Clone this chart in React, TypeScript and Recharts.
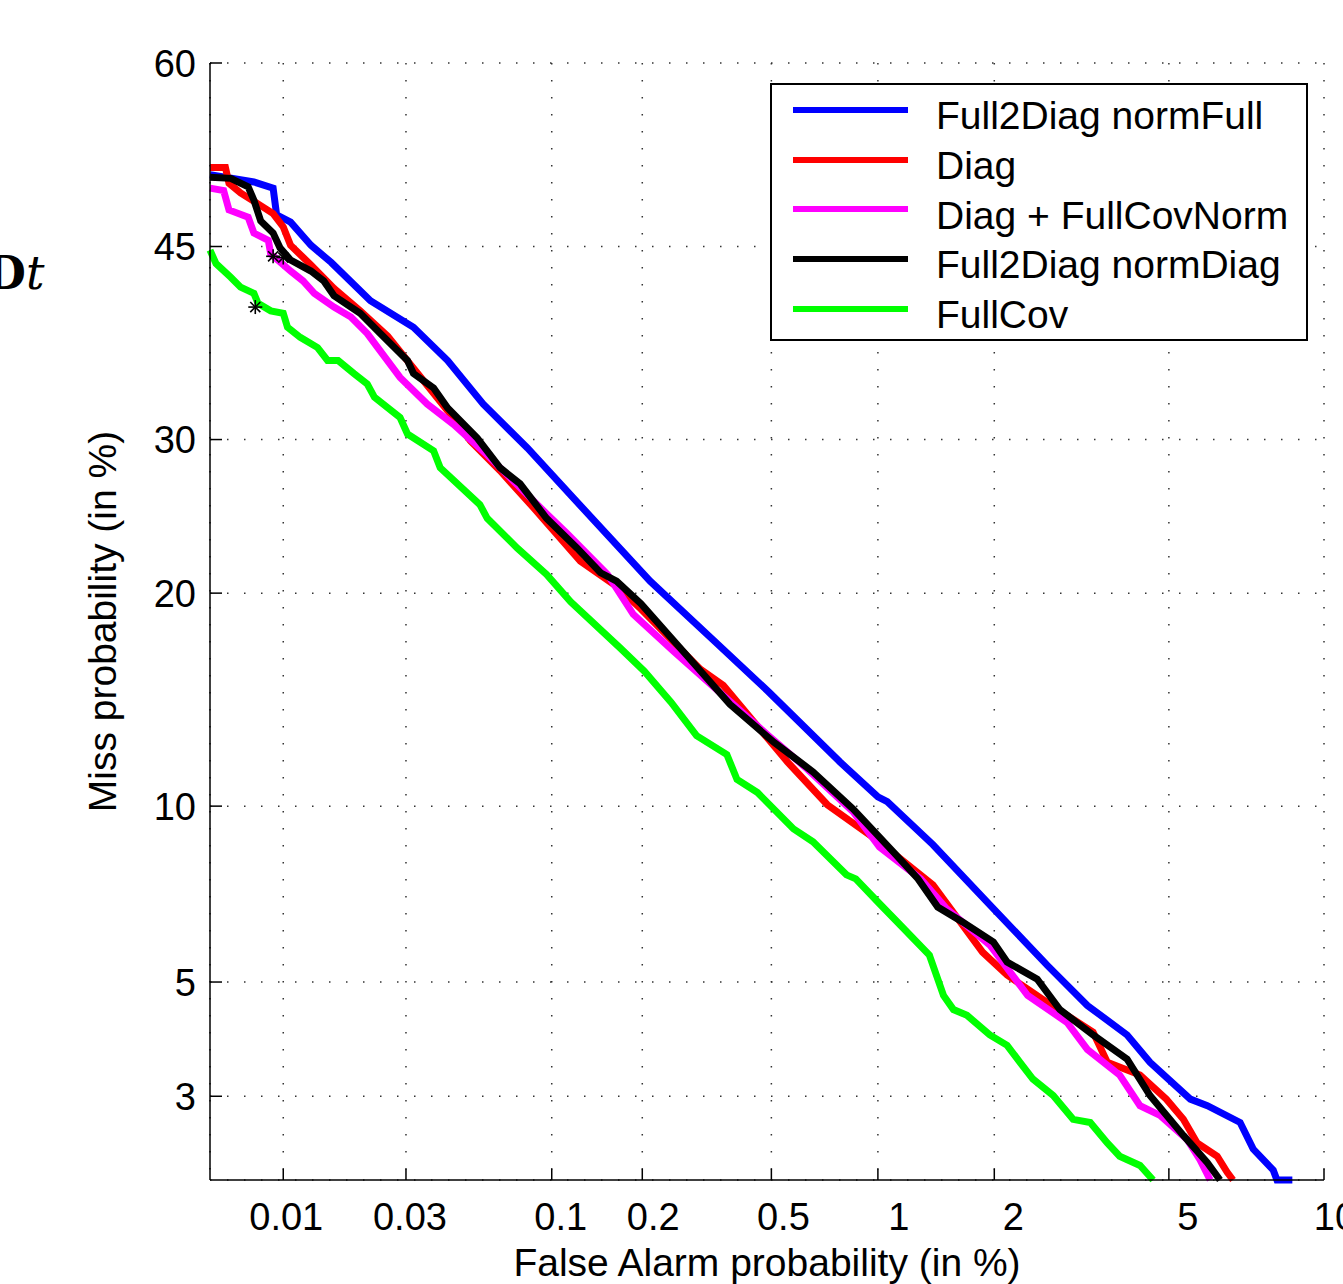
import React from "react";
import { ComposedChart, Line, Scatter, XAxis, YAxis, CartesianGrid, Legend } from "recharts";

// DET curves, values as [false alarm %, miss %]
const FA_TICKS = [0.01, 0.03, 0.1, 0.2, 0.5, 1, 2, 5, 10];
const MISS_TICKS = [3, 5, 10, 20, 30, 45, 60];
const FA_RANGE = [0.005, 10];
const MISS_RANGE = [2, 60];

const full2DiagNormFull = [
  [0.005, 50.9], [0.0076, 50.3], [0.0091, 49.8], [0.0094, 47.6], [0.0107, 47.0], [0.0129, 45.1],
  [0.0155, 43.7], [0.022, 40.6], [0.032, 38.5], [0.0428, 35.9], [0.0575, 32.6], [0.0824, 29.4],
  [0.119, 25.9], [0.212, 20.7], [0.344, 17.2], [0.49, 14.8], [0.786, 11.7], [1.0, 10.34],
  [1.06, 10.16], [1.4, 8.67], [1.95, 6.87], [2.68, 5.37], [3.32, 4.52], [4.07, 3.97],
  [4.56, 3.51], [5.54, 2.96], [6.0, 2.87], [6.97, 2.65], [7.39, 2.33], [8.07, 2.1],
  [8.2, 2.0], [8.76, 2.0],
];

const diag = [
  [0.005, 51.5], [0.0058, 51.5], [0.006, 50.2], [0.0067, 49.4], [0.0079, 48.5], [0.0091, 47.7],
  [0.01, 46.6], [0.0107, 45.1], [0.0129, 43.5], [0.0159, 41.6], [0.0201, 39.8], [0.0256, 37.8],
  [0.032, 35.3], [0.0428, 32.1], [0.0518, 29.9], [0.0661, 27.8], [0.0865, 25.3], [0.125, 21.9],
  [0.165, 20.4], [0.198, 19.1], [0.305, 15.9], [0.359, 15.1], [0.557, 11.7], [0.725, 10.05],
  [1.01, 8.76], [1.4, 7.43], [1.87, 5.67], [2.15, 5.15], [2.68, 4.58], [3.42, 4.02],
  [3.68, 3.51], [4.34, 3.31], [4.94, 2.96], [5.36, 2.69], [5.72, 2.4], [6.28, 2.25],
  [6.57, 2.08], [6.75, 2.0],
];

const diagFullCovNorm = [
  [0.005, 49.8], [0.0057, 49.6], [0.006, 48.0], [0.0072, 47.4], [0.0076, 46.1], [0.0087, 45.5],
  [0.0089, 44.4], [0.0107, 43.0], [0.012, 42.2], [0.0133, 41.2], [0.0159, 40.1], [0.0185, 39.3],
  [0.0214, 38.0], [0.0285, 34.6], [0.036, 32.6], [0.045, 31.1], [0.0595, 28.9], [0.0736, 27.1],
  [0.096, 24.9], [0.113, 23.6], [0.154, 21.1], [0.187, 18.8], [0.252, 16.8], [0.385, 14.2],
  [0.49, 12.8], [0.637, 11.4], [0.855, 9.8], [1.01, 8.6], [1.3, 7.61], [1.52, 6.76],
  [1.95, 5.84], [2.41, 4.72], [2.98, 4.2], [3.32, 3.72], [3.92, 3.31], [4.34, 2.87],
  [4.79, 2.74], [5.46, 2.44], [5.8, 2.21], [6.08, 2.0],
];

const full2DiagNormDiag = [
  [0.005, 50.7], [0.0061, 50.6], [0.0072, 49.9], [0.0076, 48.8], [0.0081, 47.1], [0.0091, 46.1],
  [0.0097, 44.9], [0.0107, 43.9], [0.0129, 43.0], [0.0145, 42.2], [0.0159, 41.0], [0.0201, 39.6],
  [0.024, 38.0], [0.0304, 35.9], [0.032, 34.9], [0.038, 33.8], [0.0428, 32.3], [0.0548, 30.1],
  [0.0661, 28.0], [0.0777, 26.9], [0.096, 24.6], [0.122, 22.7], [0.146, 21.2], [0.165, 20.7],
  [0.198, 19.4], [0.27, 16.8], [0.376, 14.2], [0.51, 12.5], [0.66, 11.3], [0.855, 9.9],
  [1.1, 8.44], [1.28, 7.61], [1.44, 6.81], [1.67, 6.41], [1.99, 5.91], [2.15, 5.44],
  [2.54, 5.06], [2.87, 4.44], [3.42, 3.97], [4.07, 3.56], [4.56, 3.01], [5.36, 2.49],
  [6.0, 2.18], [6.36, 2.0],
];

const fullCov = [
  [0.005, 44.7], [0.0053, 43.6], [0.0061, 42.5], [0.0067, 41.7], [0.0076, 41.2], [0.0079, 40.4],
  [0.0089, 39.8], [0.01, 39.6], [0.0104, 38.5], [0.0117, 37.7], [0.0137, 36.9], [0.015, 35.9],
  [0.0165, 35.9], [0.019, 34.9], [0.0214, 34.1], [0.0228, 33.1], [0.0285, 31.6], [0.0304, 30.4],
  [0.038, 29.2], [0.0402, 28.0], [0.056, 25.5], [0.0595, 24.6], [0.076, 22.7], [0.096, 21.1],
  [0.116, 19.5], [0.169, 17.0], [0.203, 15.8], [0.247, 14.3], [0.297, 12.8], [0.368, 12.0],
  [0.395, 11.0], [0.455, 10.5], [0.58, 9.2], [0.66, 8.77], [0.82, 7.73], [0.87, 7.61],
  [1.0, 6.95], [1.15, 6.33], [1.37, 5.6], [1.49, 4.72], [1.58, 4.44], [1.71, 4.33],
  [1.95, 3.97], [2.15, 3.79], [2.31, 3.51], [2.48, 3.25], [2.77, 3.01], [3.08, 2.69],
  [3.37, 2.65], [3.68, 2.4], [3.92, 2.25], [4.34, 2.15], [4.63, 2.0],
];

// min-cost operating points drawn as "*"
const minCostPoints = [[0.0091, 44.2], [0.01, 44.1], [0.0077, 40.1]];

const SERIES = [
  { name: "Full2Diag normFull", data: full2DiagNormFull, color: "#0000ff" },
  { name: "Diag", data: diag, color: "#ff0000" },
  { name: "Diag + FullCovNorm", data: diagFullCovNorm, color: "#ff00ff" },
  { name: "Full2Diag normDiag", data: full2DiagNormDiag, color: "#000000" },
  { name: "FullCov", data: fullCov, color: "#00ff00" },
];

const FONT = "'Liberation Sans', Arial, Helvetica, sans-serif";
// tick labels sit a bit right of their ticks in the original
const FA_LABEL_SHIFT = [3, 4, 9, 11, 12, 21, 19, 19, 11];

// inverse normal CDF (Acklam)
function probit(p: number): number {
  const a = [-39.69683028665376, 220.9460984245205, -275.9285104469687, 138.357751867269, -30.66479806614716, 2.506628277459239];
  const b = [-54.47609879822406, 161.5858368580409, -155.6989798598866, 66.80131188771972, -13.28068155288572];
  const c = [-0.007784894002430293, -0.3223964580411365, -2.400758277161838, -2.549732539343734, 4.374664141464968, 2.938163982698783];
  const d = [0.007784695709041462, 0.3224671290700398, 2.445134137142996, 3.754408661907416];
  const lo = 0.02425;
  if (p < lo) {
    const q = Math.sqrt(-2 * Math.log(p));
    return (((((c[0] * q + c[1]) * q + c[2]) * q + c[3]) * q + c[4]) * q + c[5]) / ((((d[0] * q + d[1]) * q + d[2]) * q + d[3]) * q + 1);
  }
  if (p <= 1 - lo) {
    const q = p - 0.5;
    const r = q * q;
    return ((((((a[0] * r + a[1]) * r + a[2]) * r + a[3]) * r + a[4]) * r + a[5]) * q) / (((((b[0] * r + b[1]) * r + b[2]) * r + b[3]) * r + b[4]) * r + 1);
  }
  const q = Math.sqrt(-2 * Math.log(1 - p));
  return -(((((c[0] * q + c[1]) * q + c[2]) * q + c[3]) * q + c[4]) * q + c[5]) / ((((d[0] * q + d[1]) * q + d[2]) * q + d[3]) * q + 1);
}

const toDet = (pts: number[][]) => pts.map(([fa, miss]) => ({ x: probit(fa / 100), y: probit(miss / 100) }));

// eslint-disable-next-line @typescript-eslint/no-explicit-any
function FaTick({ x, y, index }: any) {
  return (
    <g>
      <line x1={x} y1={y} x2={x} y2={y - 11} stroke="#000" strokeWidth={1.5} />
      <text x={x + FA_LABEL_SHIFT[index]} y={y + 50} textAnchor="middle" fontSize={38} fontFamily={FONT} fill="#000">
        {String(FA_TICKS[index])}
      </text>
    </g>
  );
}

// eslint-disable-next-line @typescript-eslint/no-explicit-any
function MissTick({ x, y, index }: any) {
  return (
    <g>
      <line x1={x} y1={y} x2={x + 12} y2={y} stroke="#000" strokeWidth={1.5} />
      <text x={x - 14} y={y} dy="0.36em" textAnchor="end" fontSize={38} fontFamily={FONT} fill="#000">
        {String(MISS_TICKS[index])}
      </text>
    </g>
  );
}

// eslint-disable-next-line @typescript-eslint/no-explicit-any
function XTitle({ viewBox }: any) {
  return (
    <text x={viewBox.x + viewBox.width / 2} y={viewBox.y + 96} textAnchor="middle" fontSize={39} fontFamily={FONT} fill="#000">
      False Alarm probability (in %)
    </text>
  );
}

// eslint-disable-next-line @typescript-eslint/no-explicit-any
function YTitle({ viewBox }: any) {
  const cx = viewBox.x + 102;
  const cy = viewBox.y + viewBox.height / 2;
  return (
    <text x={cx} y={cy} transform={`rotate(-90, ${cx}, ${cy})`} textAnchor="middle" dominantBaseline="central" fontSize={39} fontFamily={FONT} fill="#000">
      Miss probability (in %)
    </text>
  );
}

// eslint-disable-next-line @typescript-eslint/no-explicit-any
function Asterisk({ cx, cy }: any) {
  const r = 7;
  const k = r * 0.72;
  return (
    <g stroke="#000" strokeWidth={1.6}>
      <line x1={cx - r} y1={cy} x2={cx + r} y2={cy} />
      <line x1={cx} y1={cy - r} x2={cx} y2={cy + r} />
      <line x1={cx - k} y1={cy - k} x2={cx + k} y2={cy + k} />
      <line x1={cx - k} y1={cy + k} x2={cx + k} y2={cy - k} />
    </g>
  );
}

function LegendBox() {
  return (
    <div style={{ width: 538, height: 258, boxSizing: "border-box", border: "2px solid #000", background: "#fff" }}>
      {SERIES.map((s) => (
        <div key={s.name} style={{ display: "flex", alignItems: "center", height: 49.7 }}>
          <div style={{ marginLeft: 21, width: 115, height: 6, background: s.color }} />
          <span style={{ marginLeft: 28, fontSize: 39, lineHeight: 1, fontFamily: FONT, color: "#000", position: "relative", top: 6, whiteSpace: "nowrap" }}>
            {s.name}
          </span>
        </div>
      ))}
    </div>
  );
}

export default function App() {
  return (
    <div style={{ position: "absolute", left: 0, top: 0, width: 1343, height: 1284, overflow: "hidden", background: "#fff" }}>
      <div style={{ position: "absolute", left: -14, top: 250, fontSize: 46, lineHeight: 1, fontFamily: "'DejaVu Serif', 'Liberation Serif', serif" }}>
        <b>D</b>
        <i>t</i>
      </div>
      <ComposedChart width={1343} height={1284} margin={{ top: 63, right: 19, bottom: 0, left: 0 }}>
        <CartesianGrid stroke="#333" strokeWidth={1.5} strokeDasharray="1.5 15.5" />
        <XAxis
          type="number"
          dataKey="x"
          domain={[probit(FA_RANGE[0] / 100), probit(FA_RANGE[1] / 100)]}
          ticks={FA_TICKS.map((v) => probit(v / 100))}
          interval={0}
          height={104}
          tickSize={0}
          tickMargin={0}
          tickLine={false}
          axisLine={{ stroke: "#000", strokeWidth: 1.5 }}
          tick={FaTick}
          label={XTitle}
        />
        <YAxis
          type="number"
          dataKey="y"
          domain={[probit(MISS_RANGE[0] / 100), probit(MISS_RANGE[1] / 100)]}
          ticks={MISS_TICKS.map((v) => probit(v / 100))}
          interval={0}
          width={210}
          tickSize={0}
          tickMargin={0}
          tickLine={false}
          axisLine={{ stroke: "#000", strokeWidth: 1.5 }}
          tick={MissTick}
          label={YTitle}
        />
        <Legend
          layout="vertical"
          align="center"
          verticalAlign="middle"
          content={LegendBox}
          wrapperStyle={{ left: 770, top: 83, width: 538, height: 258 }}
        />
        {SERIES.map((s) => (
          <Line
            key={s.name}
            name={s.name}
            data={toDet(s.data)}
            dataKey="y"
            type="linear"
            stroke={s.color}
            strokeWidth={7}
            dot={false}
            activeDot={false}
            isAnimationActive={false}
          />
        ))}
        <Scatter data={toDet(minCostPoints)} dataKey="y" shape={Asterisk} isAnimationActive={false} legendType="none" />
      </ComposedChart>
    </div>
  );
}
